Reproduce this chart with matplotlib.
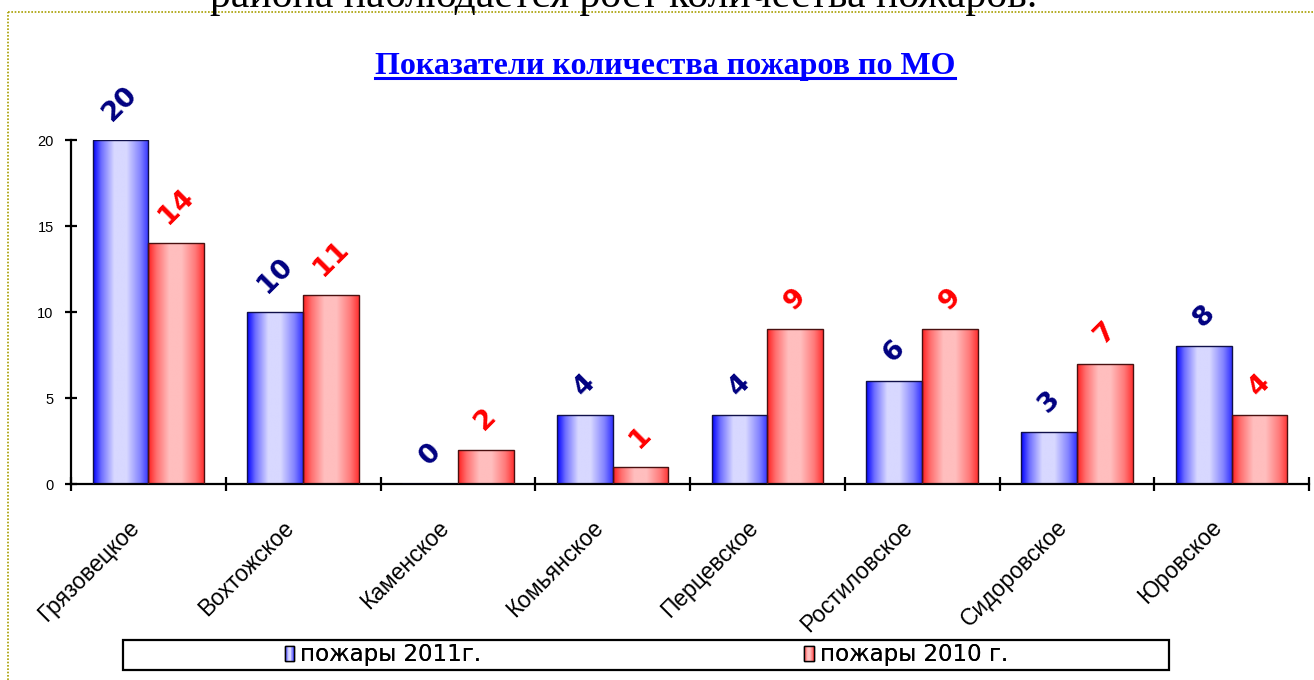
import numpy as np
import matplotlib
matplotlib.use("Agg")
import matplotlib.pyplot as plt
from matplotlib.patches import Rectangle
from matplotlib.lines import Line2D
from matplotlib.legend_handler import HandlerBase
from matplotlib.colors import LinearSegmentedColormap
from matplotlib.transforms import ScaledTranslation

plt.rcParams['font.family'] = ['Liberation Sans', 'DejaVu Sans']

categories = ["Грязовецкое", "Вохтожское", "Каменское", "Комьянское",
              "Перцевское", "Ростиловское", "Сидоровское", "Юровское"]
fires_2011 = [20, 10, 0, 4, 4, 6, 3, 8]
fires_2010 = [14, 11, 2, 1, 9, 9, 7, 4]
series_labels = ["пожары 2011г.", "пожары 2010 г."]
title = "Показатели количества пожаров по МО"
top_text = "района наблюдается рост количества пожаров."
yticks = [0, 5, 10, 15, 20]

blue_stops = [(0.0, (0/255, 0/255, 1.0)), (0.15, (110/255, 110/255, 1.0)),
              (0.38, (216/255, 216/255, 1.0)), (0.6, (216/255, 216/255, 1.0)),
              (0.85, (130/255, 130/255, 1.0)), (1.0, (50/255, 50/255, 1.0))]
red_stops = [(0.0, (1.0, 30/255, 30/255)), (0.15, (1.0, 110/255, 110/255)),
             (0.38, (1.0, 190/255, 190/255)), (0.6, (1.0, 190/255, 190/255)),
             (0.85, (1.0, 120/255, 120/255)), (1.0, (1.0, 50/255, 50/255))]
blue_cmap = LinearSegmentedColormap.from_list("bg", blue_stops)
red_cmap = LinearSegmentedColormap.from_list("rg", red_stops)

W, H = 1314, 680
fig = plt.figure(figsize=(W / 100, H / 100), dpi=100)
ax = fig.add_axes([71 / W, 1 - 484 / H, (1309 - 71) / W, (484 - 140) / H])

x = np.arange(len(categories))
bw = 0.36
grad = np.linspace(0, 1, 256).reshape(1, -1)


def gradient_bars(xs, vals, cmap, ec):
    bars = ax.bar(xs, vals, width=bw, facecolor='none', edgecolor=ec,
                  linewidth=1.0, zorder=3)
    for b in bars:
        bx, by = b.get_x(), b.get_y()
        bwid, bh = b.get_width(), b.get_height()
        if bh <= 0:
            continue
        im = ax.imshow(grad, cmap=cmap, aspect='auto', interpolation='bilinear',
                       extent=(bx, bx + bwid, by, by + bh), zorder=2)
        im.set_clip_path(b)
    return bars


gradient_bars(x - bw / 2, fires_2011, blue_cmap, '#10104a')
gradient_bars(x + bw / 2, fires_2010, red_cmap, '#4a1010')

for xi, v in zip(x - bw / 2, fires_2011):
    ax.annotate(str(v), (xi, v), xytext=(0, 10), textcoords='offset points',
                rotation=45, ha='center', va='bottom', fontsize=19.5,
                fontweight='bold', color='#000080', family='DejaVu Sans',
                zorder=5)
for xi, v in zip(x + bw / 2, fires_2010):
    ax.annotate(str(v), (xi, v), xytext=(0, 10), textcoords='offset points',
                rotation=45, ha='center', va='bottom', fontsize=19.5,
                fontweight='bold', color='#FF0000', family='DejaVu Sans',
                zorder=5)

ax.set_xlim(-0.5, len(categories) - 0.5)
ax.set_ylim(0, 20)
for s in ['top', 'right']:
    ax.spines[s].set_visible(False)
for s in ['left', 'bottom']:
    ax.spines[s].set_linewidth(1.6)
    ax.spines[s].set_color('black')

ax.set_yticks(yticks)
ax.set_yticklabels([str(t) for t in yticks], fontsize=10.5)
ax.tick_params(axis='y', direction='inout', length=9, width=1.6, pad=8)

ax.set_xticks(x)
ax.set_xticklabels(categories, rotation=45, ha='right', va='top',
                   rotation_mode='anchor', fontsize=16.5)
ax.tick_params(axis='x', which='major', length=0, pad=23)
ax.set_xticks(np.arange(-0.5, len(categories) + 0.5, 1), minor=True)
ax.tick_params(axis='x', which='minor', direction='inout', length=10, width=1.6)
off = ScaledTranslation(-0.21, 0, fig.dpi_scale_trans)
for lab in ax.get_xticklabels():
    lab.set_transform(lab.get_transform() + off)

# title with underline
t = fig.text(665 / W, 1 - 74 / H, title, ha='center', va='baseline',
             fontsize=23, fontweight='bold', color='#0000FF',
             family='Liberation Serif')
# top text (partly outside the page, as in the source)
fig.text(624 / W, 1 - 7 / H, top_text, ha='center', va='baseline',
         fontsize=30, color='black', family='Liberation Serif')

# dotted frame
fig.add_artist(Line2D([8 / W, 1.0], [1 - 12 / H, 1 - 12 / H],
                      transform=fig.transFigure, color='#A8A000',
                      linestyle=(0, (1, 1)), linewidth=1.2))
fig.add_artist(Line2D([8 / W, 8 / W], [0, 1 - 12 / H],
                      transform=fig.transFigure, color='#A8A000',
                      linestyle=(0, (1, 1)), linewidth=1.2))

# legend frame
fig.add_artist(Rectangle((123 / W, 10 / H), (1169 - 123) / W, 30 / H,
                         transform=fig.transFigure, fill=False,
                         edgecolor='black', linewidth=1.6))


class GradHandler(HandlerBase):
    def __init__(self, cmap):
        super().__init__()
        self.cmap = cmap

    def create_artists(self, legend, orig_handle, xdescent, ydescent,
                       width, height, fontsize, trans):
        n = 10
        arts = []
        for i in range(n):
            r = Rectangle((-xdescent + i * width / n, -ydescent), width / n,
                          height, facecolor=self.cmap((i + 0.5) / n),
                          edgecolor='none', transform=trans)
            arts.append(r)
        arts.append(Rectangle((-xdescent, -ydescent), width, height,
                              facecolor='none', edgecolor='black',
                              linewidth=1.0, transform=trans))
        return arts


h1 = Rectangle((0, 0), 1, 1)
h2 = Rectangle((0, 0), 1, 1)
for h, lab, cm, cx in [(h1, series_labels[0], blue_cmap, 383),
                       (h2, series_labels[1], red_cmap, 906)]:
    lg = fig.legend([h], [lab], loc='center',
                    bbox_to_anchor=(cx / W, 25 / H), frameon=False,
                    fontsize=16.5, handlelength=0.42, handleheight=0.6,
                    handletextpad=0.25, borderpad=0,
                    prop={'family': 'DejaVu Sans', 'size': 16.5},
                    handler_map={h: GradHandler(cm)})
    fig.add_artist(lg)

fig.canvas.draw()
bb = t.get_window_extent()
fig.add_artist(Line2D([bb.x0 / W, bb.x1 / W], [(1 - 77.5 / H), (1 - 77.5 / H)],
                      transform=fig.transFigure, color='#0000FF', linewidth=2.2))

fig.savefig("out.png", dpi=100)
